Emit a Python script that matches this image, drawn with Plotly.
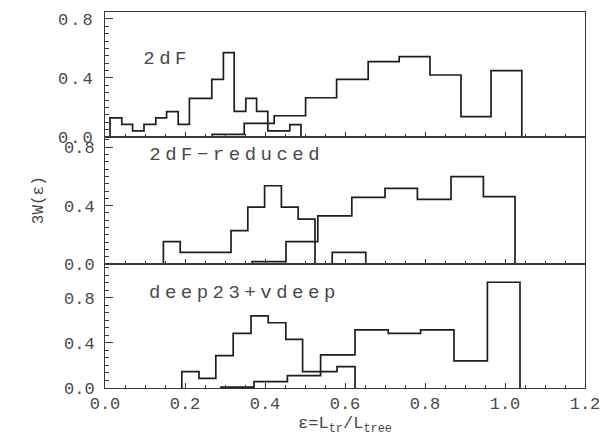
import plotly.graph_objects as go
from plotly.subplots import make_subplots

# ---------------- data ----------------
# x: epsilon = L_tr / L_tree ; y: 3W(epsilon)
panel_names = ["2dF", "2dF\u2212reduced", "deep23+vdeep"]

top_a_edges = [0.0125, 0.042, 0.069, 0.0975, 0.127, 0.154, 0.183, 0.211, 0.239,
               0.267, 0.296, 0.323, 0.352, 0.379, 0.407, 0.435, 0.462, 0.490]
top_a_vals = [0.13, 0.086, 0.041, 0.086, 0.13, 0.172, 0.086, 0.262, 0.262,
              0.391, 0.572, 0.174, 0.262, 0.174, 0.042, 0.042, 0.084]
top_b_edges = [0.268, 0.348, 0.423, 0.5015, 0.579, 0.658, 0.7355, 0.8125, 0.89, 0.965, 1.042]
top_b_vals = [0.018, 0.093, 0.144, 0.266, 0.391, 0.511, 0.544, 0.42, 0.138, 0.45]

mid_a_edges = [0.146, 0.188, 0.230, 0.272, 0.315, 0.357, 0.399, 0.441, 0.483,
               0.525, 0.568, 0.610, 0.652]
mid_a_vals = [0.153, 0.080, 0.080, 0.080, 0.228, 0.389, 0.536, 0.389, 0.308, 0.0, 0.080, 0.080]
mid_b_edges = [0.368, 0.4525, 0.532, 0.617, 0.70, 0.781, 0.865, 0.946, 1.025]
mid_b_vals = [0.016, 0.153, 0.329, 0.457, 0.518, 0.443, 0.598, 0.461]

bot_a_edges = [0.192, 0.235, 0.277, 0.3205, 0.365, 0.408, 0.452, 0.494, 0.539, 0.58, 0.625]
bot_a_vals = [0.145, 0.086, 0.287, 0.485, 0.639, 0.579, 0.432, 0.145, 0.145, 0.189]
bot_b_edges = [0.29, 0.3725, 0.456, 0.539, 0.625, 0.708, 0.789, 0.8725, 0.956, 1.0375]
bot_b_vals = [0.008, 0.056, 0.109, 0.293, 0.515, 0.485, 0.515, 0.24, 0.938]

x_ticks = [0.0, 0.2, 0.4, 0.6, 0.8, 1.0, 1.2]
y_ticks = [0.0, 0.4, 0.8]
y_ranges = [[0, 0.847], [0, 0.87], [0, 1.1]]

# ---------------- figure ----------------
LINE = "#1e1e1e"
AX = "#3a3a3a"
TXT = "#4a4a4a"
FONT = "Liberation Mono"

fig = make_subplots(rows=3, cols=1, shared_xaxes=True, vertical_spacing=0,
                    row_heights=[125, 127, 124])


def step_xy(edges, vals):
    xs = [edges[0]] + list(edges[:-1]) + [edges[-1]]
    ys = [0.0] + list(vals) + [0.0]
    return xs, ys


hists = [
    [(top_a_edges, top_a_vals), (top_b_edges, top_b_vals)],
    [(mid_a_edges, mid_a_vals), (mid_b_edges, mid_b_vals)],
    [(bot_a_edges, bot_a_vals), (bot_b_edges, bot_b_vals)],
]

for r, pair in enumerate(hists, start=1):
    for edges, vals in pair:
        xs, ys = step_xy(edges, vals)
        fig.add_trace(go.Scatter(x=xs, y=ys, mode="lines",
                                 line=dict(shape="hv", color=LINE, width=1.7),
                                 showlegend=False, hoverinfo="skip"),
                      row=r, col=1)

label_pos = [(0.154, 0.529), (0.3275, 0.747), (0.3475, 0.843)]
for r, (name, (lx, ly)) in enumerate(zip(panel_names, label_pos), start=1):
    fig.add_annotation(x=lx, y=ly, text=name, showarrow=False,
                       xanchor="center", yanchor="middle",
                       font=dict(family=FONT, size=19, color=TXT),
                       row=r, col=1)

for r in range(1, 4):
    fig.update_xaxes(range=[0, 1.2], tickvals=x_ticks, tickformat=".1f",
                     automargin=False,
                     showline=True, mirror=True, linecolor=AX, linewidth=1,
                     ticks="inside", ticklen=5, tickcolor=AX, tickwidth=1,
                     minor=dict(ticks="inside", ticklen=3, dtick=0.05, tickcolor=AX),
                     showgrid=False, zeroline=False,
                     showticklabels=(r == 3),
                     tickfont=dict(family=FONT, size=17, color=TXT),
                     row=r, col=1)
    fig.update_yaxes(range=y_ranges[r - 1], tickvals=y_ticks, tickformat=".1f",
                     automargin=False,
                     showline=True, mirror=True, linecolor=AX, linewidth=1,
                     ticks="inside", ticklen=8, tickcolor=AX, tickwidth=1,
                     minor=dict(ticks="inside", ticklen=4,
                                dtick=(0.05 if r < 3 else 0.4 / 6), tickcolor=AX),
                     showgrid=False, zeroline=False,
                     ticklabelstandoff=6,
                     tickfont=dict(family=FONT, size=17, color=TXT),
                     row=r, col=1)

fig.update_xaxes(title=dict(text="\u03b5=L<sub>tr</sub>/L<sub>tree</sub>",
                            font=dict(family=FONT, size=17, color=TXT),
                            standoff=2),
                 row=3, col=1)

fig.add_annotation(x=-0.16, y=0.5, xref="paper", yref="paper",
                   text="3W(\u03b5)", textangle=-90, showarrow=False,
                   font=dict(family=FONT, size=16, color=TXT))

fig.update_layout(width=605, height=439,
                  margin=dict(l=105, r=20, t=12, b=51),
                  paper_bgcolor="white", plot_bgcolor="white")

post = """
document.body.style.margin='0';
document.body.style.padding='0';
document.querySelectorAll('g.xtick text, g.ytick text').forEach(function(t){t.style.letterSpacing='2px';});
document.querySelectorAll('g.annotation text').forEach(function(t){
  if (t.textContent.indexOf('3W') === -1) { t.style.letterSpacing='4.5px'; }
});
document.querySelectorAll('text.xtitle').forEach(function(t){t.style.letterSpacing='2px';});
"""

fig.write_html("out.html", post_script=post, config={"displayModeBar": False})
